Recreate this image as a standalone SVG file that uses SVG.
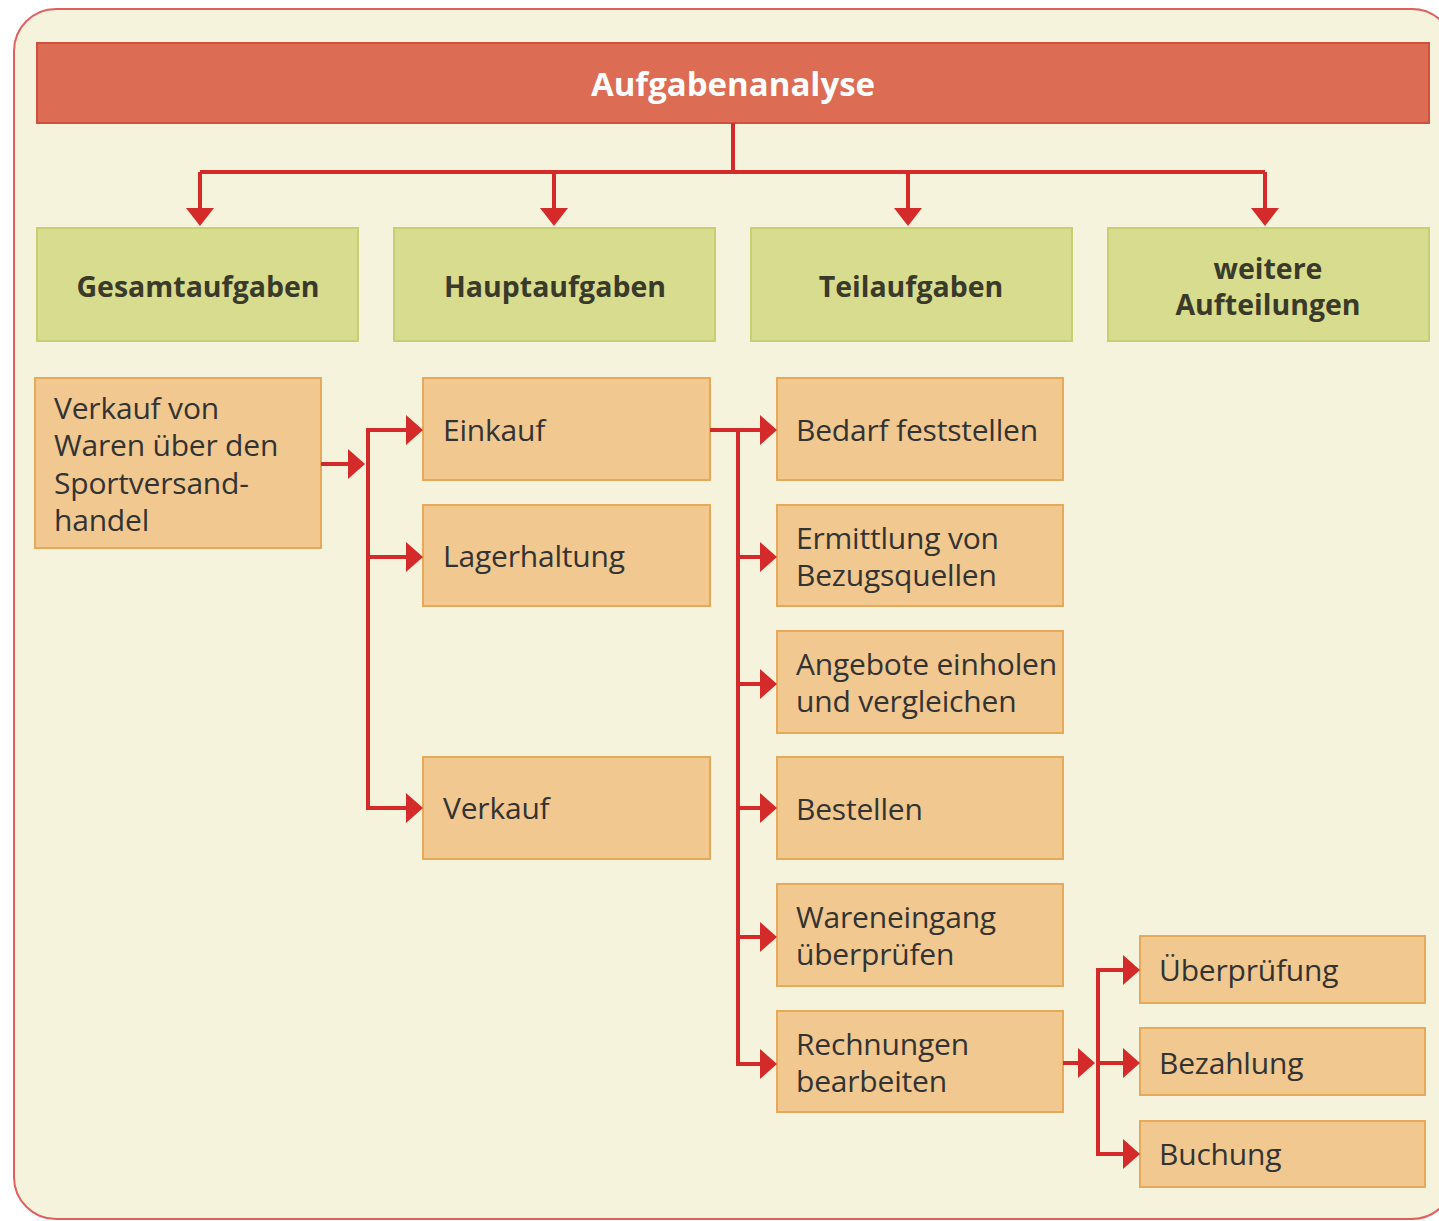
<svg xmlns="http://www.w3.org/2000/svg" width="1439" height="1221" viewBox="0 0 1439 1221">
<style>
.frame{fill:#F6F3DC;stroke:#E06060;stroke-width:2}
.head{fill:#DC6C53;stroke:#D4503E;stroke-width:2}
.green{fill:#D8DC8E;stroke:#C6CF72;stroke-width:2}
.box{fill:#F0C890;stroke:#E8A85A;stroke-width:2}
.t{font-family:"Open Sans","Noto Sans",sans-serif;font-size:30px;fill:#333333;letter-spacing:-0.2px}
.tb{font-family:"Open Sans","Noto Sans",sans-serif;font-size:28.5px;font-weight:bold;fill:#3A3A2A;text-anchor:middle}
.title{font-family:"Open Sans","Noto Sans",sans-serif;font-size:33px;font-weight:bold;fill:#FFFFFF;text-anchor:middle}
.ln{fill:none;stroke:#D42A2A;stroke-width:4}
.ah{fill:#D42A2A}
</style>
<rect class="frame" x="14" y="9" width="1440" height="1210" rx="42" ry="42"/>
<g id="aufgabenanalyse"><rect class="head" x="37" y="43" width="1392" height="80"/><text class="title" x="733" y="96">Aufgabenanalyse</text></g>
<g id="gesamtaufgaben"><rect class="green" x="37" y="228" width="321" height="113"/><text class="tb" x="198" y="297">Gesamtaufgaben</text></g>
<g id="hauptaufgaben"><rect class="green" x="394" y="228" width="321" height="113"/><text class="tb" x="555" y="297">Hauptaufgaben</text></g>
<g id="teilaufgaben"><rect class="green" x="751" y="228" width="321" height="113"/><text class="tb" x="911" y="297">Teilaufgaben</text></g>
<g id="weitere"><rect class="green" x="1108" y="228" width="321" height="113"/><text class="tb" x="1268" y="279">weitere</text><text class="tb" x="1268" y="315">Aufteilungen</text></g>
<g id="verkauf-von-waren"><rect class="box" x="35" y="378" width="286" height="170"/><text class="t" x="54" y="419">Verkauf von</text><text class="t" x="54" y="456">Waren über den</text><text class="t" x="54" y="494">Sportversand-</text><text class="t" x="54" y="531">handel</text></g>
<g id="einkauf"><rect class="box" x="423" y="378" width="287" height="102"/><text class="t" x="443" y="441">Einkauf</text></g>
<g id="lagerhaltung"><rect class="box" x="423" y="505" width="287" height="101"/><text class="t" x="443" y="567">Lagerhaltung</text></g>
<g id="verkauf"><rect class="box" x="423" y="757" width="287" height="102"/><text class="t" x="443" y="819">Verkauf</text></g>
<g id="bedarf"><rect class="box" x="777" y="378" width="286" height="102"/><text class="t" x="796" y="441">Bedarf feststellen</text></g>
<g id="ermittlung"><rect class="box" x="777" y="505" width="286" height="101"/><text class="t" x="796" y="549">Ermittlung von</text><text class="t" x="796" y="586">Bezugsquellen</text></g>
<g id="angebote"><rect class="box" x="777" y="631" width="286" height="102"/><text class="t" x="796" y="675">Angebote einholen</text><text class="t" x="796" y="712">und vergleichen</text></g>
<g id="bestellen"><rect class="box" x="777" y="757" width="286" height="102"/><text class="t" x="796" y="820">Bestellen</text></g>
<g id="wareneingang"><rect class="box" x="777" y="884" width="286" height="102"/><text class="t" x="796" y="928">Wareneingang</text><text class="t" x="796" y="965">überprüfen</text></g>
<g id="rechnungen"><rect class="box" x="777" y="1011" width="286" height="101"/><text class="t" x="796" y="1055">Rechnungen</text><text class="t" x="796" y="1092">bearbeiten</text></g>
<g id="ueberpruefung"><rect class="box" x="1140" y="936" width="285" height="67"/><text class="t" x="1159" y="981">Überprüfung</text></g>
<g id="bezahlung"><rect class="box" x="1140" y="1028" width="285" height="67"/><text class="t" x="1159" y="1074">Bezahlung</text></g>
<g id="buchung"><rect class="box" x="1140" y="1121" width="285" height="66"/><text class="t" x="1159" y="1165">Buchung</text></g>
<g id="connectors">
<path class="ln" d="M733,123 V172 M200,172 H1265"/>
<path class="ln" d="M200,172 V210"/><path class="ah" d="M186,208 H214 L200,226 Z"/>
<path class="ln" d="M554,172 V210"/><path class="ah" d="M540,208 H568 L554,226 Z"/>
<path class="ln" d="M908,172 V210"/><path class="ah" d="M894,208 H922 L908,226 Z"/>
<path class="ln" d="M1265,172 V210"/><path class="ah" d="M1251,208 H1279 L1265,226 Z"/>
<path class="ln" d="M321,464 H350"/><path class="ah" d="M348,449 L365,464 L348,479 Z"/>
<path class="ln" d="M408,430 H368 V808 H408 M368,557 H408"/>
<path class="ah" d="M406,415 L423,430 L406,445 Z"/>
<path class="ah" d="M406,542 L423,557 L406,572 Z"/>
<path class="ah" d="M406,793 L423,808 L406,823 Z"/>
<path class="ln" d="M710,430 H762 M738,430 V1064 H762 M738,557 H762 M738,684 H762 M738,808 H762 M738,937 H762"/>
<path class="ah" d="M760,415 L777,430 L760,445 Z"/>
<path class="ah" d="M760,542 L777,557 L760,572 Z"/>
<path class="ah" d="M760,669 L777,684 L760,699 Z"/>
<path class="ah" d="M760,793 L777,808 L760,823 Z"/>
<path class="ah" d="M760,922 L777,937 L760,952 Z"/>
<path class="ah" d="M760,1049 L777,1064 L760,1079 Z"/>
<path class="ln" d="M1063,1063 H1080"/><path class="ah" d="M1078,1048 L1095,1063 L1078,1078 Z"/>
<path class="ln" d="M1125,970 H1098 V1154 H1125 M1098,1063 H1125"/>
<path class="ah" d="M1123,955 L1140,970 L1123,985 Z"/>
<path class="ah" d="M1123,1048 L1140,1063 L1123,1078 Z"/>
<path class="ah" d="M1123,1139 L1140,1154 L1123,1169 Z"/>
</g>
</svg>
